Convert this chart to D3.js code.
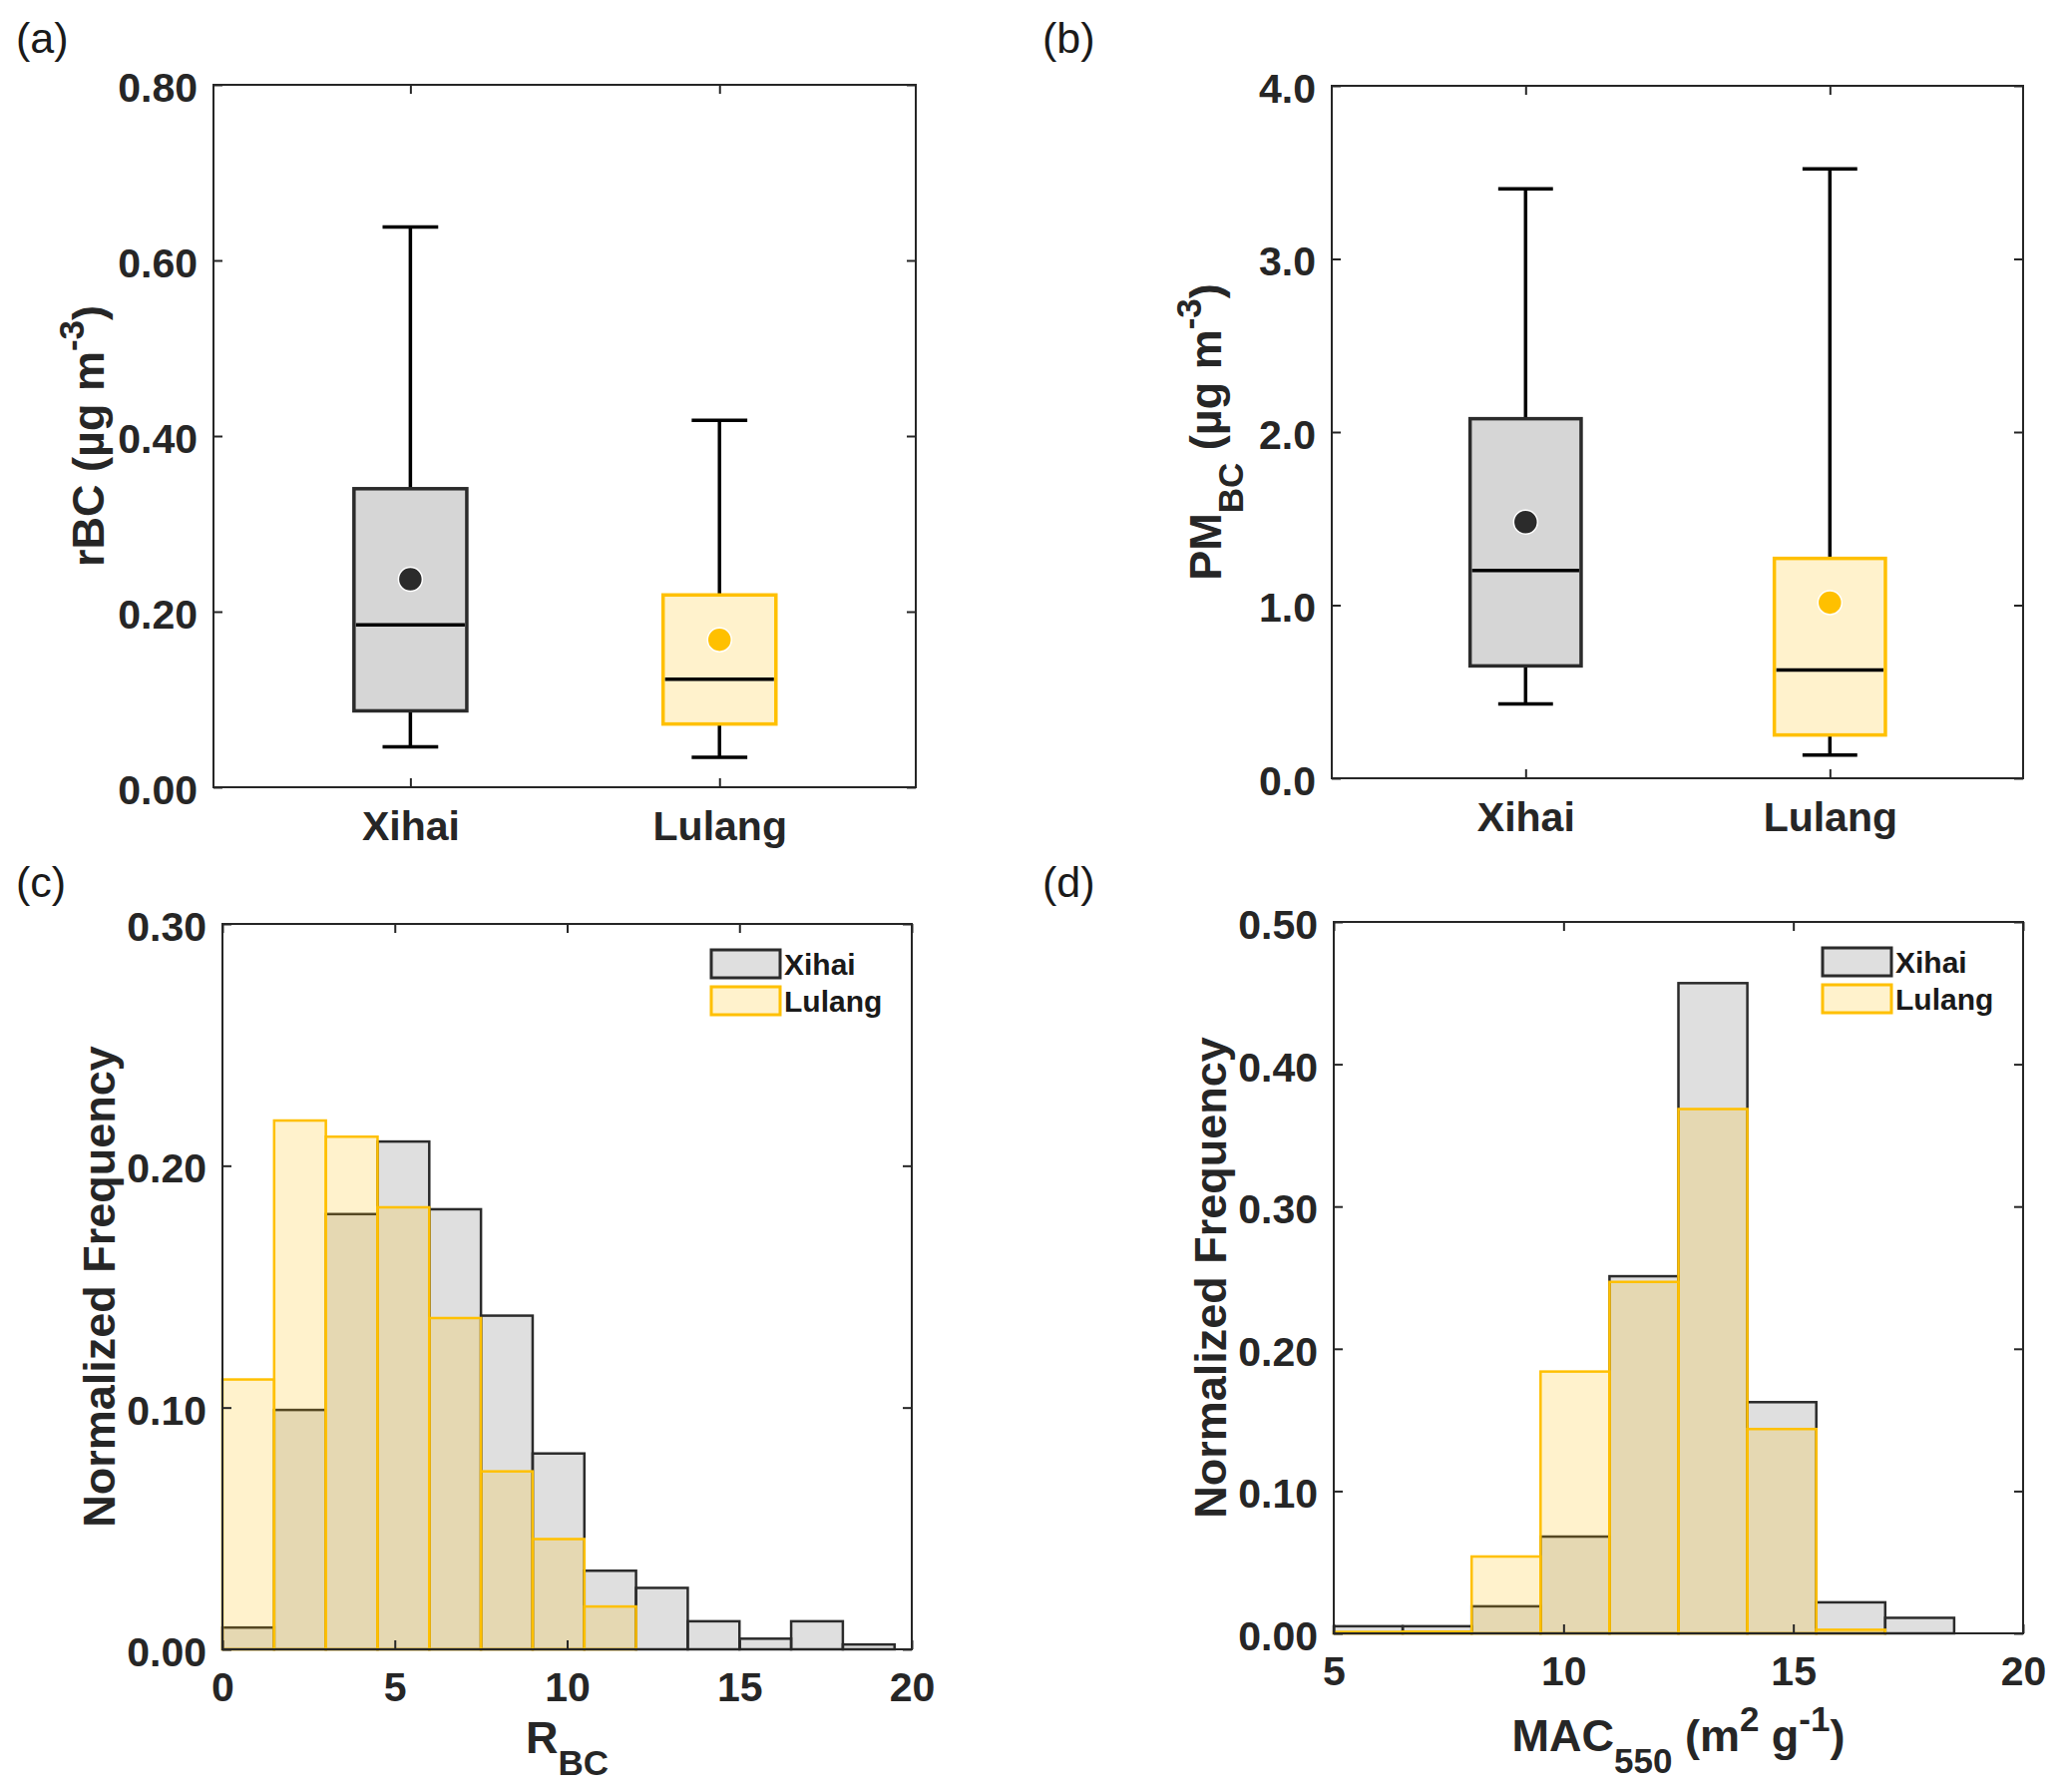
<!DOCTYPE html>
<html>
<head>
<meta charset="utf-8">
<script src="https://cdn.jsdelivr.net/npm/d3@7"></script>
<style>
body { margin: 0; background: #fff; }
text { font-family: "Liberation Sans", Arial, sans-serif; }
</style>
</head>
<body>
<svg id="fig"></svg>
<script>
// box plot stats
const categories = ["Xihai", "Lulang"];
const rbcLow  = [0.046, 0.034];
const rbcQ1   = [0.087, 0.072];
const rbcMed  = [0.185, 0.123];
const rbcQ3   = [0.340, 0.219];
const rbcHigh = [0.638, 0.418];
const rbcMean = [0.237, 0.168];

const pmLow  = [0.43, 0.134];
const pmQ1   = [0.649, 0.25];
const pmMed  = [1.20, 0.625];
const pmQ3   = [2.077, 1.27];
const pmHigh = [3.405, 3.52];
const pmMean = [1.48, 1.015];

// histograms (bin width 1.5)
const rbcBinStart = 0;
const rbcXihai  = [0.009, 0.099, 0.180, 0.210, 0.182, 0.138, 0.081, 0.0325, 0.0254, 0.0116, 0.0044, 0.0116, 0.002];
const rbcLulang = [0.1116, 0.2187, 0.212, 0.1828, 0.137, 0.0736, 0.0456, 0.0177, 0, 0, 0, 0, 0];

const macBinStart = 5;
const macXihai  = [0.005, 0.005, 0.019, 0.068, 0.251, 0.457, 0.1625, 0.0218, 0.0109, 0];
const macLulang = [0.001, 0.0012, 0.054, 0.184, 0.247, 0.3685, 0.1436, 0.0025, 0, 0];

const binWidth = 1.5;

const rbcTicks = [0, 0.2, 0.4, 0.6, 0.8];
const pmTicks = [0, 1, 2, 3, 4];
const rbcFreqTicks = [0, 0.1, 0.2, 0.3];
const macFreqTicks = [0, 0.1, 0.2, 0.3, 0.4, 0.5];
const rbcXTicks = [0, 5, 10, 15, 20];
const macXTicks = [5, 10, 15, 20];

const axisColor = "#262626";
const darkEdge = "#2b2b2b";
const gold = "#ffc000";
const boxFill = ["#d6d6d6", "#fff2cc"];
const boxEdge = [darkEdge, gold];

const svg = d3.select("#fig").attr("width", 2067).attr("height", 1796);

const styleAxis = (sel, fontSize, dy) =>
{
    sel.select(".domain").remove();
    sel.selectAll(".tick line").attr("stroke", axisColor).attr("stroke-width", 2);
    sel.selectAll(".tick text")
        .attr("fill", axisColor)
        .attr("font-size", fontSize)
        .attr("font-weight", "bold");
    if (dy != null) sel.selectAll(".tick text").attr("dy", dy);
}

const drawAxes = (x, y, xTicks, xFmt, yTicks, yFmt, xFont, xPad) =>
{
    const [x0, x1] = x.range();
    const [y0, y1] = y.range();

    svg.append("g").attr("transform", `translate(${x0},0)`)
        .call(d3.axisLeft(y).tickValues(yTicks).tickFormat(yFmt).tickSizeInner(-9).tickSizeOuter(0).tickPadding(16))
        .call(s => styleAxis(s, 41, "0.4em"));
    svg.append("g").attr("transform", `translate(${x1},0)`)
        .call(d3.axisRight(y).tickValues(yTicks).tickFormat("").tickSizeInner(-9).tickSizeOuter(0))
        .call(s => styleAxis(s, 41));
    svg.append("g").attr("transform", `translate(0,${y0})`)
        .call(d3.axisBottom(x).tickValues(xTicks).tickFormat(xFmt).tickSizeInner(-9).tickSizeOuter(0).tickPadding(xPad))
        .call(s => styleAxis(s, xFont));
    svg.append("g").attr("transform", `translate(0,${y1})`)
        .call(d3.axisTop(x).tickValues(xTicks).tickFormat("").tickSizeInner(-9).tickSizeOuter(0))
        .call(s => styleAxis(s, 41));

    svg.append("rect")
        .attr("x", x0).attr("y", y1)
        .attr("width", x1 - x0).attr("height", y0 - y1)
        .attr("fill", "none")
        .attr("stroke", axisColor)
        .attr("stroke-width", 2);
}

// parts: [text, kind] where kind is "", "sub" or "sup"
const richText = (sel, parts) =>
{
    let shift = 0;
    parts.forEach(([txt, kind]) =>
    {
        const target = kind === "sub" ? 22 : kind === "sup" ? -20 : 0;
        sel.append("tspan")
            .attr("dy", target - shift)
            .attr("font-size", kind ? 35 : null)
            .text(txt);
        shift = target;
    });
}

const yLabel = (x, y, parts) =>
{
    const t = svg.append("text")
        .attr("transform", `translate(${x},${y}) rotate(-90)`)
        .attr("text-anchor", "middle")
        .attr("font-size", 45)
        .attr("font-weight", "bold")
        .attr("fill", axisColor);
    richText(t, parts);
}

const xLabel = (x, y, parts) =>
{
    const t = svg.append("text")
        .attr("x", x).attr("y", y)
        .attr("text-anchor", "middle")
        .attr("font-size", 45)
        .attr("font-weight", "bold")
        .attr("fill", axisColor);
    richText(t, parts);
}

const panelLabel = (x, y, txt) =>
{
    svg.append("text")
        .attr("x", x).attr("y", y)
        .attr("font-size", 43)
        .attr("fill", "#1a1a1a")
        .text(txt);
}

const drawBoxPlot = (frame, yMax, yTicks, yFmt, low, q1, med, q3, high, mean) =>
{
    const x = d3.scaleLinear().domain([0.363, 2.635]).range([frame.l, frame.r]);
    const y = d3.scaleLinear().domain([0, yMax]).range([frame.b, frame.t]);
    const boxW = x(1.365) - x(1);
    const capW = x(1.18) - x(1);

    const stats = categories.map((c, i) => ({i, pos: i + 1, low: low[i], q1: q1[i], med: med[i], q3: q3[i], high: high[i], mean: mean[i]}));
    const g = svg.append("g");

    const groups = g.selectAll("g.box").data(stats).enter().append("g").attr("class", "box");

    groups.append("line")
        .attr("x1", d => x(d.pos)).attr("x2", d => x(d.pos))
        .attr("y1", d => y(d.q3)).attr("y2", d => y(d.high))
        .attr("stroke", "#000").attr("stroke-width", 3.5);
    groups.append("line")
        .attr("x1", d => x(d.pos)).attr("x2", d => x(d.pos))
        .attr("y1", d => y(d.q1)).attr("y2", d => y(d.low))
        .attr("stroke", "#000").attr("stroke-width", 3.5);
    groups.append("line")
        .attr("x1", d => x(d.pos) - capW / 2).attr("x2", d => x(d.pos) + capW / 2)
        .attr("y1", d => y(d.high)).attr("y2", d => y(d.high))
        .attr("stroke", "#000").attr("stroke-width", 3.5);
    groups.append("line")
        .attr("x1", d => x(d.pos) - capW / 2).attr("x2", d => x(d.pos) + capW / 2)
        .attr("y1", d => y(d.low)).attr("y2", d => y(d.low))
        .attr("stroke", "#000").attr("stroke-width", 3.5);

    groups.append("rect")
        .attr("x", d => x(d.pos) - boxW / 2)
        .attr("y", d => y(d.q3))
        .attr("width", boxW)
        .attr("height", d => y(d.q1) - y(d.q3))
        .attr("fill", d => boxFill[d.i])
        .attr("stroke", d => boxEdge[d.i])
        .attr("stroke-width", 3.5);

    groups.append("line")
        .attr("x1", d => x(d.pos) - boxW / 2 + 2).attr("x2", d => x(d.pos) + boxW / 2 - 2)
        .attr("y1", d => y(d.med)).attr("y2", d => y(d.med))
        .attr("stroke", "#000").attr("stroke-width", 3.5);

    groups.append("circle")
        .attr("cx", d => x(d.pos)).attr("cy", d => y(d.mean))
        .attr("r", 12)
        .attr("fill", d => boxEdge[d.i])
        .attr("stroke", "#fff").attr("stroke-width", 1.5);

    drawAxes(x, y, [1, 2], d => categories[d - 1], yTicks, yFmt, 41, 24);
}

const drawHistogram = (frame, xDomain, yMax, xTicks, yTicks, start, xihai, lulang) =>
{
    const x = d3.scaleLinear().domain(xDomain).range([frame.l, frame.r]);
    const y = d3.scaleLinear().domain([0, yMax]).range([frame.b, frame.t]);

    const series = [
        {name: "Xihai", values: xihai, fill: "#808080", opacity: 0.25, stroke: darkEdge},
        {name: "Lulang", values: lulang, fill: gold, opacity: 0.2, stroke: gold}
    ];

    series.forEach(s =>
    {
        svg.append("g").selectAll("rect")
            .data(s.values)
            .enter()
            .append("rect")
            .attr("x", (d, i) => x(start + i * binWidth))
            .attr("width", (d, i) => x(start + (i + 1) * binWidth) - x(start + i * binWidth))
            .attr("y", d => y(d))
            .attr("height", d => y(0) - y(d))
            .attr("fill", s.fill)
            .attr("fill-opacity", s.opacity)
            .attr("stroke", s.stroke)
            .attr("stroke-width", 2.5);
    });

    drawAxes(x, y, xTicks, d3.format("d"), yTicks, d3.format(".2f"), 41, 23);

    const legend = svg.append("g")
        .selectAll("g")
        .data(series)
        .enter()
        .append("g")
        .attr("transform", (d, i) => `translate(${frame.r - 201},${frame.t + 26 + i * 37})`);
    legend.append("rect")
        .attr("width", 69).attr("height", 28)
        .attr("fill", d => d.fill)
        .attr("fill-opacity", d => d.opacity)
        .attr("stroke", d => d.stroke)
        .attr("stroke-width", 3);
    legend.append("text")
        .attr("x", 73).attr("y", 25)
        .attr("font-size", 30)
        .attr("font-weight", "bold")
        .attr("fill", "#1a1a1a")
        .text(d => d.name);
}

const frameA = {l: 214, t: 85, r: 918, b: 789};
const frameB = {l: 1335, t: 86, r: 2028, b: 780};
const frameC = {l: 223, t: 926, r: 914, b: 1653};
const frameD = {l: 1337, t: 924, r: 2028, b: 1637};

drawBoxPlot(frameA, 0.8, rbcTicks, d3.format(".2f"), rbcLow, rbcQ1, rbcMed, rbcQ3, rbcHigh, rbcMean);
drawBoxPlot(frameB, 4, pmTicks, d3.format(".1f"), pmLow, pmQ1, pmMed, pmQ3, pmHigh, pmMean);
drawHistogram(frameC, [0, 20], 0.3, rbcXTicks, rbcFreqTicks, rbcBinStart, rbcXihai, rbcLulang);
drawHistogram(frameD, [5, 20], 0.5, macXTicks, macFreqTicks, macBinStart, macXihai, macLulang);

yLabel(frameA.l - 110, (frameA.t + frameA.b) / 2, [["rBC (\u00b5g m", ""], ["-3", "sup"], [")", ""]]);
yLabel(frameB.l - 111, (frameB.t + frameB.b) / 2, [["PM", ""], ["BC", "sub"], [" (\u00b5g m", ""], ["-3", "sup"], [")", ""]]);
yLabel(frameC.l - 108, (frameC.t + frameC.b) / 2, [["Normalized Frequency", ""]]);
yLabel(frameD.l - 108, (frameD.t + frameD.b) / 2, [["Normalized Frequency", ""]]);

xLabel((frameC.l + frameC.r) / 2, 1757, [["R", ""], ["BC", "sub"]]);
xLabel((frameD.l + frameD.r) / 2, 1755, [["MAC", ""], ["550", "sub"], [" (m", ""], ["2", "sup"], [" g", ""], ["-1", "sup"], [")", ""]]);

panelLabel(16, 53, "(a)");
panelLabel(1045, 53, "(b)");
panelLabel(16, 899, "(c)");
panelLabel(1045, 899, "(d)");
</script>
</body>
</html>
